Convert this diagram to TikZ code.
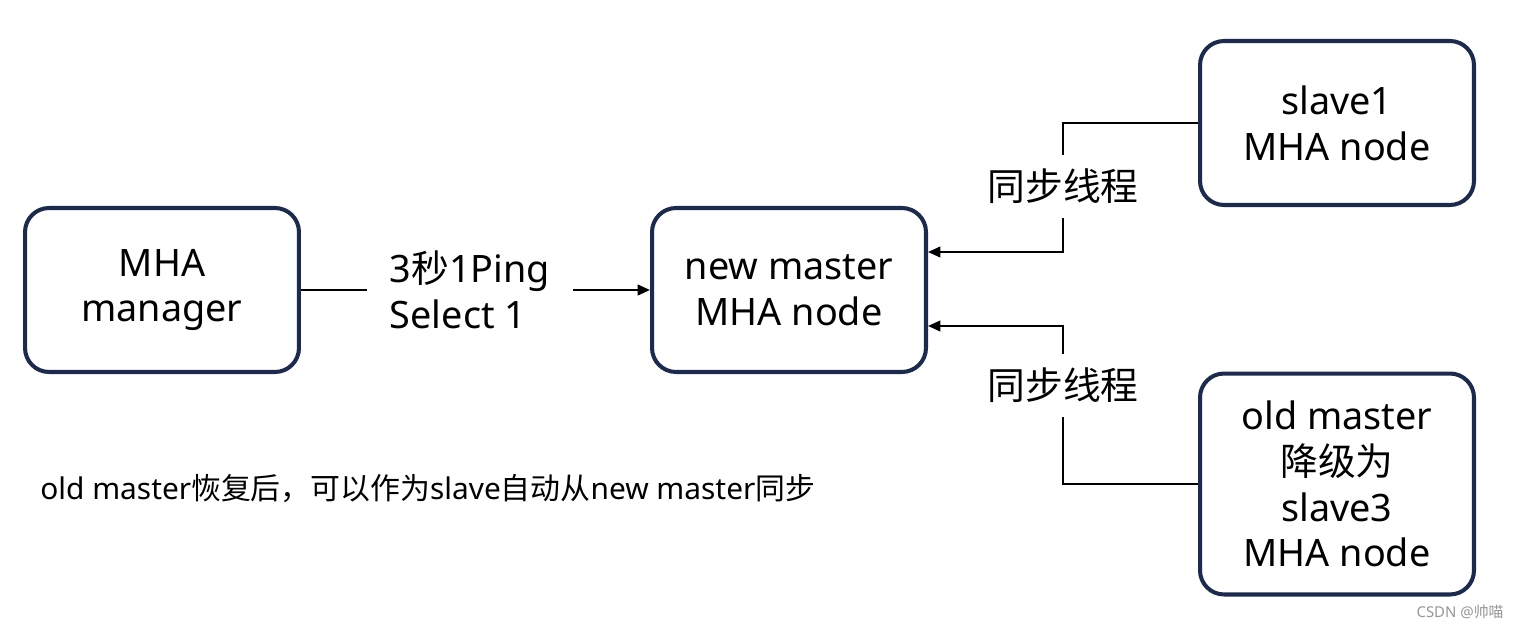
\documentclass[tikz,border=0pt]{standalone}
\usepackage{fontspec}
\setmainfont{Noto Sans}
\newfontfamily\cjk{Noto Sans CJK SC}
\usetikzlibrary{arrows.meta,calc}
\definecolor{BoxClr}{RGB}{28,43,77}
\definecolor{MarkClr}{RGB}{150,150,150}

\begin{document}
\begin{tikzpicture}[x=0.02cm,y=-0.02cm,
  box/.style={draw=BoxClr,line width=2.3pt,rounded corners=0.48cm,minimum width=5.48cm,
    minimum height=3.28cm,align=center,inner sep=0pt,font=\fontsize{21.5}{26}\selectfont},
  tag/.style={inner sep=0pt,font=\fontsize{21.5}{26}\selectfont},
  link/.style={line width=1.3pt,black},
  arr/.style={link,-{Triangle[length=7pt,width=6pt]}}]
\useasboundingbox (0,0) rectangle (1519,628);

% Boxes.
\node[box] (mgr) at (162,290) {MHA\\manager};
\node[box] (newm) at (789,290) {new master\\MHA node};
\node[box] (slave1) at (1337,123) {slave1\\MHA node};
\node[box,minimum height=4.42cm] (oldm) at (1337,484) {old master\\{\cjk 降级为}\\slave3\\MHA node};

% Labels on the links.
\node[tag,align=left,minimum width=4.1cm] (ping) at (470,290) {3{\cjk 秒}1Ping\\Select 1};
\node[tag,minimum height=1.26cm] (sync1) at (1063,186.5) {\cjk 同步线程};
\node[tag,minimum height=1.26cm] (sync2) at (1063,385.5) {\cjk 同步线程};

\node[tag,anchor=west,font=\fontsize{17}{20}\selectfont] (note) at (40,489)
  {old master{\cjk 恢复后，可以作为}slave{\cjk 自动从}new master{\cjk 同步}};
\node[tag,anchor=east,text=MarkClr,font=\fontsize{8.5}{10}\selectfont] (mark) at (1504,612) {CSDN @{\cjk 帅喵}};

\draw[link] (mgr.east) -- (ping.west);
\draw[arr] (ping.east) -- (newm.west);

\draw[link] (slave1.west) -| (sync1.north);
\draw[arr] (sync1.south) |- ([yshift=0.76cm]newm.east);
\draw[arr] (sync2.north) |- ([yshift=-0.72cm]newm.east);
\draw[link] (oldm.west) -| (sync2.south);

\end{tikzpicture}
\end{document}
